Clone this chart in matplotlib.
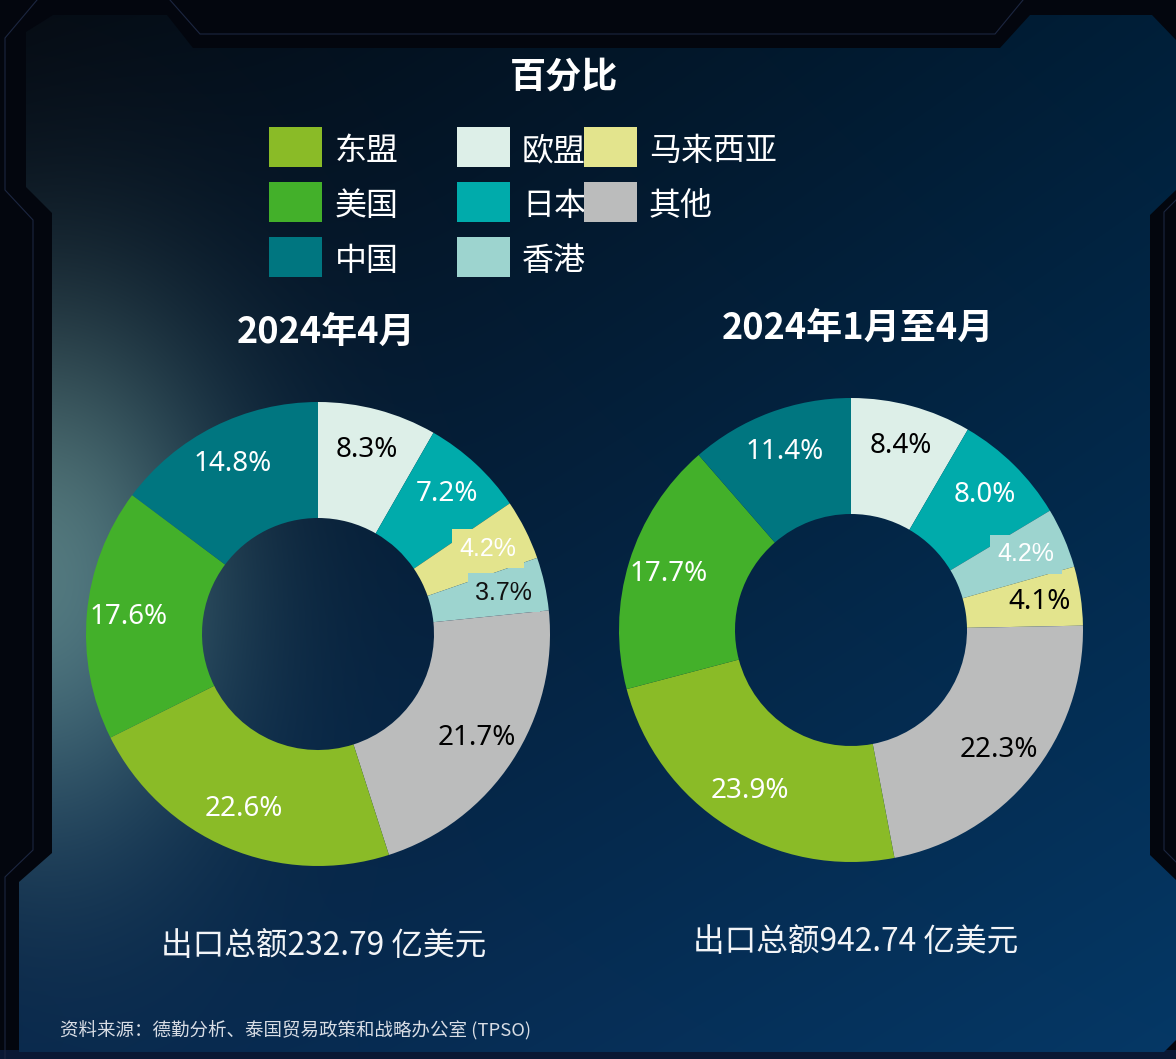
import numpy as np
import matplotlib
matplotlib.use("Agg")
import matplotlib.pyplot as plt
from matplotlib.patches import Polygon, Rectangle

plt.rcParams['font.family'] = ['Noto Sans CJK SC', 'DejaVu Sans']

# ---------------- data ----------------
categories = ['欧盟', '日本', '马来西亚', '香港', '其他', '东盟', '美国', '中国']
apr_2024 = [8.3, 7.2, 4.2, 3.7, 21.7, 22.6, 17.6, 14.8]
cats_ytd = ['欧盟', '日本', '香港', '马来西亚', '其他', '东盟', '美国', '中国']
jan_apr_2024 = [8.4, 8.0, 4.2, 4.1, 22.3, 23.9, 17.7, 11.4]
legend_order = [['东盟', '美国', '中国'], ['欧盟', '日本', '香港'], ['马来西亚', '其他']]
totals = ['出口总额232.79 亿美元', '出口总额942.74 亿美元']
subtitles = ['2024年4月', '2024年1月至4月']
title = '百分比'
source = '资料来源：德勤分析、泰国贸易政策和战略办公室 (TPSO)'

colors = {'东盟': '#8abb27', '美国': '#43b02a', '中国': '#007680',
          '欧盟': '#ddefe8', '日本': '#00abab', '香港': '#9dd4cf',
          '马来西亚': '#e3e48d', '其他': '#bbbcbc'}
label_dark = {'欧盟', '其他', '马来西亚', '香港'}

W, H = 1176, 1059
fig = plt.figure(figsize=(W / 100, H / 100), dpi=100)
fig.patch.set_facecolor('#03060e')

# ---------------- background ----------------
bg = fig.add_axes([0, 0, 1, 1])
bg.set_xlim(0, W)
bg.set_ylim(H, 0)
bg.axis('off')
bg.add_patch(Rectangle((0, 1050), W, 20, fc='#0a1834', ec='none'))
yy, xx = np.mgrid[0:H, 0:W]
u = xx / W
v = yy / H
TL = np.array([0.02, 0.04, 0.07])
TR = np.array([0.00, 0.12, 0.22])
BL = np.array([0.03, 0.15, 0.29])
BR = np.array([0.02, 0.22, 0.40])
img = ((1 - u) * (1 - v))[..., None] * TL + (u * (1 - v))[..., None] * TR \
    + ((1 - u) * v)[..., None] * BL + (u * v)[..., None] * BR
g = np.exp(-(((xx - 40) / 130.0) ** 2 / 2 + ((yy - 570) / 190.0) ** 2 / 2))
img = img + g[..., None] * np.array([0.30, 0.37, 0.30])
img = np.clip(img, 0, 1)
im = bg.imshow(img, extent=(0, W, H, 0), zorder=1, interpolation='bilinear')
poly = [(53, 15), (167, 15), (193, 48), (1000, 48), (1030, 15), (1152, 15), (1176, 40),
        (1176, 190), (1150, 215), (1150, 855), (1176, 880), (1176, 1040), (1164, 1052),
        (19, 1052), (19, 882), (52, 853), (52, 213), (26, 187), (26, 32)]
clip = Polygon(poly, closed=True, transform=bg.transData, fc='none', ec='none')
bg.add_patch(clip)
im.set_clip_path(clip)
# thin decorative lines
lc = '#1c2640'
bg.plot([170, 200, 995, 1023], [0, 34, 34, 0], color=lc, lw=0.8, zorder=2)
bg.plot([37, 5, 5, 33, 33, 5, 5], [0, 38, 190, 220, 850, 877, 1059], color=lc, lw=0.8, zorder=2)
bg.plot([1176, 1164, 1164, 1176], [200, 212, 850, 862], color=lc, lw=0.8, zorder=2)

# ---------------- titles ----------------
fig.text(564 / W, 1 - 77 / H, title, ha='center', va='center', color='white',
         fontsize=26, fontweight='bold')
for x, y, s in [(326, 332, subtitles[0]), (858, 328, subtitles[1])]:
    fig.text(x / W, 1 - y / H, s, ha='center', va='center', color='white',
             fontsize=26, fontweight='bold')

# ---------------- legend ----------------
col_x = [269, 457, 584]
txt_x = [335, 522, 649]
row_y = [147, 202, 257]
for ci, col in enumerate(legend_order):
    for ri, name in enumerate(col):
        y = row_y[ri]
        bg.add_patch(Rectangle((col_x[ci], y - 20), 53, 40, fc=colors[name], ec='none', zorder=3))
        bg.text(txt_x[ci], y + 4, name, ha='left', va='center', color='white',
                fontsize=23, zorder=3)

# ---------------- pies ----------------
R = 232
def draw_pie(cx, cy, cats, vals, boxed):
    ax = fig.add_axes([(cx - R) / W, (H - cy - R) / H, 2 * R / W, 2 * R / H])
    wedges, texts, autotexts = ax.pie(
        vals, colors=[colors[c] for c in cats], startangle=90, counterclock=False,
        radius=1, autopct='%.1f%%', pctdistance=0.82,
        wedgeprops=dict(width=0.5, linewidth=0), textprops=dict(fontsize=20))
    ax.set_xlim(-1, 1)
    ax.set_ylim(-1, 1)
    ax.axis('off')
    for c, t in zip(cats, autotexts):
        t.set_family(['Noto Sans', 'DejaVu Sans'])
        t.set_color('black' if c in label_dark else 'white')
        if c in boxed:
            t.set_color(boxed[c])
            t.set_fontsize(18)
            t.set_family(['Liberation Sans Narrow', 'Liberation Sans', 'DejaVu Sans'])
            t.set_bbox(dict(boxstyle='square,pad=0.3', fc=colors[c], ec='none'))
    return ax

draw_pie(318, 634, categories, apr_2024, {'马来西亚': 'white', '香港': '#111111'})
draw_pie(851, 630, cats_ytd, jan_apr_2024, {'香港': 'white'})

# ---------------- totals & source ----------------
for x, y, s in [(324, 946, totals[0]), (856, 942, totals[1])]:
    fig.text(x / W, 1 - y / H, s, ha='center', va='center', color='#f2f4f7', fontsize=22.8)
fig.text(60 / W, 1 - 1030 / H, source, ha='left', va='center', color='#d8dde5',
         fontsize=13.3, style='italic')

fig.savefig('out.png', dpi=100, facecolor=fig.get_facecolor())
